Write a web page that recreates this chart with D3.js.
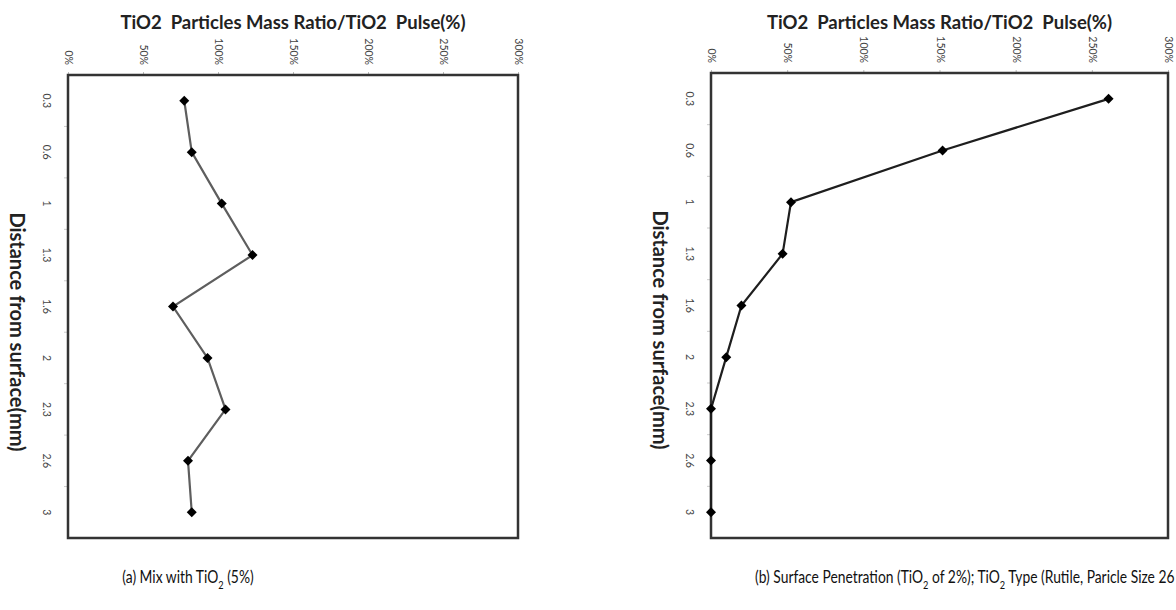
<!DOCTYPE html>
<html>
<head>
<meta charset="utf-8">
<script src="https://cdn.jsdelivr.net/npm/d3@7"></script>
<style>
  body { margin: 0; background: #fff; }
  svg { display: block; }
</style>
</head>
<body>
<svg width="1176" height="610"></svg>
<script>
// distance from surface (mm), one band per depth
const distances = ['0.3', '0.6', '1', '1.3', '1.6', '2', '2.3', '2.6', '3'];
// (a) mix with TiO2 (5%)
const mixValues = [77.5, 82.5, 102.5, 123, 70, 93, 105, 80, 82.5];
// (b) surface penetration (TiO2 of 2%)
const penetrationValues = [261, 152, 52.5, 47, 20, 10, 0, 0, 0];
// percent ticks on the top axis
const pctTicks = [0, 50, 100, 150, 200, 250, 300];

const svg = d3.select('svg');
const font = 'Lato, sans-serif';

function drawPanel(cfg) {
  const { x0, x1, y0, y1, values, lineColor } = cfg;

  const xScale = d3.scaleLinear().domain([0, 300]).range([x0, x1]);
  const yScale = d3.scaleBand().domain(distances).range([y0, y1]);

  const g = svg.append('g');

  // title
  g.append('text')
    .attr('x', (x0 + x1) / 2)
    .attr('y', 29)
    .attr('text-anchor', 'middle')
    .attr('font-family', font)
    .attr('font-weight', 'bold')
    .attr('font-size', '18.5px')
    .attr('fill', '#222')
    .style('white-space', 'pre')
    .text('TiO2  Particles Mass Ratio/TiO2  Pulse(%)');

  // top percent axis, labels turned like the rest of the chart
  const xAxis = d3.axisTop(xScale).tickValues(pctTicks).tickFormat(d => d + '%').tickSize(3).tickSizeOuter(0);
  const xg = g.append('g').attr('transform', `translate(0,${y0})`).call(xAxis);
  xg.select('.domain').remove();
  xg.selectAll('.tick line').attr('stroke', '#bbb');
  xg.selectAll('.tick text')
    .attr('x', 0).attr('y', 0).attr('dy', '0.32em')
    .attr('text-anchor', 'end')
    .attr('transform', 'translate(0,-10) rotate(90)')
    .attr('font-family', font)
    .attr('font-size', '10.5px')
    .attr('fill', '#444');

  // left category axis
  const yAxis = d3.axisLeft(yScale).tickSize(0).tickPadding(0);
  const yg = g.append('g').attr('transform', `translate(${x0},0)`).call(yAxis);
  yg.select('.domain').remove();
  yg.selectAll('.tick text')
    .attr('x', 0).attr('dy', 0)
    .attr('text-anchor', 'middle')
    .attr('dominant-baseline', 'central')
    .attr('transform', 'translate(-21,0) rotate(90)')
    .attr('font-family', font)
    .attr('font-size', '10.5px')
    .attr('fill', '#444');

  // small marks at band boundaries
  g.append('g').selectAll('line')
    .data(distances.slice(1))
    .join('line')
    .attr('x1', x0 - 4).attr('x2', x0)
    .attr('y1', d => yScale(d)).attr('y2', d => yScale(d))
    .attr('stroke', '#ccc');

  // axis title
  g.append('text')
    .attr('transform', `translate(${x0 - 50},${y0 + 257}) rotate(90)`)
    .attr('text-anchor', 'middle')
    .attr('dominant-baseline', 'central')
    .attr('font-family', font)
    .attr('font-weight', 'bold')
    .attr('font-size', '20px')
    .attr('fill', '#222')
    .text('Distance from surface(mm)');

  // plot frame
  g.append('rect')
    .attr('x', x0).attr('y', y0)
    .attr('width', x1 - x0).attr('height', y1 - y0)
    .attr('fill', 'none')
    .attr('stroke', '#333')
    .attr('stroke-width', 2.5);

  const pts = distances.map((d, i) => ({ d, v: values[i] }));
  const line = d3.line()
    .x(p => xScale(p.v))
    .y(p => yScale(p.d) + yScale.bandwidth() / 2);

  g.append('path')
    .datum(pts)
    .attr('d', line)
    .attr('fill', 'none')
    .attr('stroke', lineColor)
    .attr('stroke-width', 2.2);

  const diamond = d3.symbol().type(d3.symbolSquare).size(50);
  g.append('g').selectAll('path')
    .data(pts)
    .join('path')
    .attr('d', diamond)
    .attr('transform', p => `translate(${xScale(p.v)},${yScale(p.d) + yScale.bandwidth() / 2}) rotate(45)`)
    .attr('fill', '#000');
}

drawPanel({ x0: 68, x1: 518, y0: 75, y1: 538, values: mixValues, lineColor: '#5e5e5e' });
drawPanel({ x0: 711, x1: 1168, y0: 73, y1: 538, values: penetrationValues, lineColor: '#1e1e1e' });

// captions, narrowed a little to look like the condensed face of the figure
function caption(x, anchor, parts) {
  const t = svg.append('text')
    .attr('transform', `translate(${x},583) scale(0.84,1)`)
    .attr('text-anchor', anchor)
    .attr('font-family', font)
    .attr('font-size', '16.5px')
    .attr('fill', '#111');
  parts.forEach(p => {
    const s = t.append('tspan').text(p.t);
    if (p.sub) s.attr('font-size', '11px').attr('baseline-shift', 'sub');
  });
}
caption(188, 'middle', [{ t: '(a) Mix with TiO' }, { t: '2', sub: true }, { t: ' (5%)' }]);
caption(755, 'start', [
  { t: '(b) Surface Penetration (TiO' }, { t: '2', sub: true }, { t: ' of 2%); TiO' }, { t: '2', sub: true },
  { t: ' Type (Rutile, Paricle Size 26' }
]);
</script>
</body>
</html>
